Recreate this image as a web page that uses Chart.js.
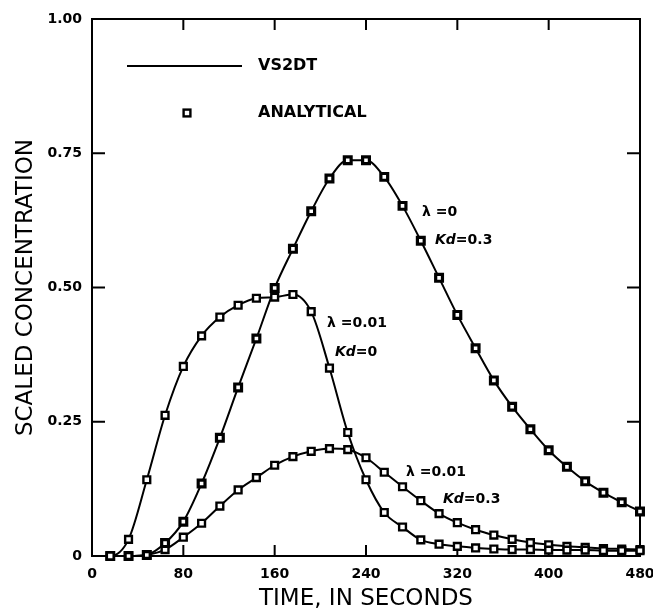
<!DOCTYPE html>
<html>
<head>
<meta charset="utf-8">
<script src="https://cdn.jsdelivr.net/npm/chart.js@4"></script>
<style>
  html, body { margin: 0; padding: 0; background: #fff; }
  #wrap { width: 653px; height: 615px; }
</style>
</head>
<body>
<div id="wrap"><canvas id="chart"></canvas></div>
<script>
// time in seconds (analytical points every 16 s)
const times = [0, 16, 32, 48, 64, 80, 96, 112, 128, 144, 160, 176, 192, 208, 224, 240,
    256, 272, 288, 304, 320, 336, 352, 368, 384, 400, 416, 432, 448, 464, 480];

// lambda = 0.01, Kd = 0
const decayNoSorb = [0, 0, 0.031, 0.142, 0.262, 0.353, 0.41, 0.445, 0.467, 0.48, 0.482, 0.487,
    0.455, 0.35, 0.23, 0.142, 0.081, 0.054, 0.03, 0.022, 0.018, 0.015, 0.013, 0.012, 0.012,
    0.011, 0.011, 0.011, 0.01, 0.01, 0.01];

// lambda = 0, Kd = 0.3
const sorbNoDecay = [0, 0, 0, 0.002, 0.024, 0.064, 0.135, 0.22, 0.314, 0.405, 0.499, 0.572,
    0.642, 0.703, 0.737, 0.737, 0.706, 0.652, 0.587, 0.518, 0.449, 0.387, 0.327, 0.278, 0.236,
    0.197, 0.166, 0.139, 0.118, 0.1, 0.083];

// lambda = 0.01, Kd = 0.3
const decaySorb = [0, 0, 0, 0.002, 0.012, 0.035, 0.061, 0.093, 0.123, 0.146, 0.169, 0.185,
    0.195, 0.2, 0.198, 0.183, 0.156, 0.129, 0.103, 0.079, 0.062, 0.049, 0.039, 0.031, 0.025,
    0.021, 0.018, 0.016, 0.014, 0.013, 0.012];

const xTicks = [0, 80, 160, 240, 320, 400, 480];
const yTicks = [0, 0.25, 0.5, 0.75, 1.0];
const yTickLabels = ['0', '0.25', '0.50', '0.75', '1.00'];

Chart.defaults.font.family = "'DejaVu Sans', sans-serif";
Chart.defaults.color = '#000';

function series(values, heavy) {
    return {
        data: times.map((t, i) => ({ x: t, y: values[i] })),
        borderColor: '#000',
        borderWidth: 2,
        cubicInterpolationMode: 'monotone',
        pointStyle: 'rect',
        pointRadius: ctx => ctx.dataIndex === 0 ? 0 : 4.8,
        pointBorderWidth: heavy ? 3.2 : 2.4,
        pointBackgroundColor: '#fff',
        pointBorderColor: '#000',
        clip: false
    };
}

// frame with inward ticks on all four sides
const framePlugin = {
    id: 'frame',
    beforeDatasetsDraw(chart) {
        const { ctx, chartArea: a, scales: { x, y } } = chart;
        ctx.save();
        ctx.strokeStyle = '#000';
        ctx.lineWidth = 2;
        ctx.strokeRect(a.left, a.top, a.right - a.left, a.bottom - a.top);
        ctx.beginPath();
        xTicks.slice(1, -1).forEach(v => {
            const px = x.getPixelForValue(v);
            ctx.moveTo(px, a.bottom); ctx.lineTo(px, a.bottom - 11);
            ctx.moveTo(px, a.top); ctx.lineTo(px, a.top + 11);
        });
        yTicks.slice(1, -1).forEach(v => {
            const py = y.getPixelForValue(v);
            ctx.moveTo(a.left, py); ctx.lineTo(a.left + 13, py);
            ctx.moveTo(a.right, py); ctx.lineTo(a.right - 13, py);
        });
        ctx.stroke();
        ctx.restore();
    }
};

// legend box and curve labels
const notesPlugin = {
    id: 'notes',
    afterDraw(chart) {
        const { ctx } = chart;
        ctx.save();
        ctx.fillStyle = '#000';
        ctx.strokeStyle = '#000';
        ctx.textBaseline = 'middle';

        ctx.lineWidth = 2;
        ctx.beginPath();
        ctx.moveTo(127, 66); ctx.lineTo(242, 66);
        ctx.stroke();
        ctx.lineWidth = 2.4;
        ctx.fillStyle = '#fff';
        ctx.fillRect(183.6, 109.6, 6.8, 6.8);
        ctx.strokeRect(183.6, 109.6, 6.8, 6.8);
        ctx.fillStyle = '#000';
        ctx.font = "bold 16px 'DejaVu Sans'";
        ctx.fillText('VS2DT', 258, 66);
        ctx.fillText('ANALYTICAL', 258, 113);

        const label = (lam, kd, lx, ly, kx, ky) => {
            ctx.font = "bold 14px 'DejaVu Sans'";
            ctx.fillText('λ =' + lam, lx, ly);
            ctx.font = "italic bold 14px 'DejaVu Sans'";
            ctx.fillText('Kd', kx, ky);
            const w = ctx.measureText('Kd').width;
            ctx.font = "bold 14px 'DejaVu Sans'";
            ctx.fillText('=' + kd, kx + w, ky);
        };
        label('0', '0.3', 422, 212, 435, 240);
        label('0.01', '0', 327, 323, 335, 352);
        label('0.01', '0.3', 406, 472, 443, 499);
        ctx.restore();
    }
};

new Chart(document.getElementById('chart'), {
    type: 'line',
    data: {
        datasets: [series(decayNoSorb, false), series(sorbNoDecay, true), series(decaySorb, false)]
    },
    options: {
        responsive: true,
        maintainAspectRatio: false,
        animation: false,
        layout: { padding: { left: 0, right: 0, top: 19, bottom: 1 } },
        plugins: { legend: { display: false }, tooltip: { enabled: false } },
        scales: {
            x: {
                type: 'linear',
                min: 0,
                max: 480,
                afterBuildTicks: s => { s.ticks = xTicks.map(v => ({ value: v })); },
                afterFit: s => { s.height = 58; s.paddingLeft = 0; s.paddingRight = 13; },
                grid: { display: false, drawTicks: false },
                border: { display: false },
                ticks: { padding: 10, font: { size: 14, weight: 'bold' }, maxRotation: 0 },
                title: {
                    display: true,
                    text: 'TIME, IN SECONDS',
                    font: { size: 23 },
                    padding: { top: 0, bottom: 1 }
                }
            },
            y: {
                min: 0,
                max: 1,
                afterBuildTicks: s => { s.ticks = yTicks.map(v => ({ value: v })); },
                afterFit: s => { s.width = 92; },
                grid: { display: false, drawTicks: false },
                border: { display: false },
                ticks: {
                    padding: 10,
                    font: { size: 14, weight: 'bold' },
                    callback: (v) => yTickLabels[yTicks.indexOf(v)]
                },
                title: {
                    display: true,
                    text: 'SCALED CONCENTRATION',
                    font: { size: 23 },
                    padding: { top: 12, bottom: 0 }
                }
            }
        }
    },
    plugins: [framePlugin, notesPlugin]
});
</script>
</body>
</html>
